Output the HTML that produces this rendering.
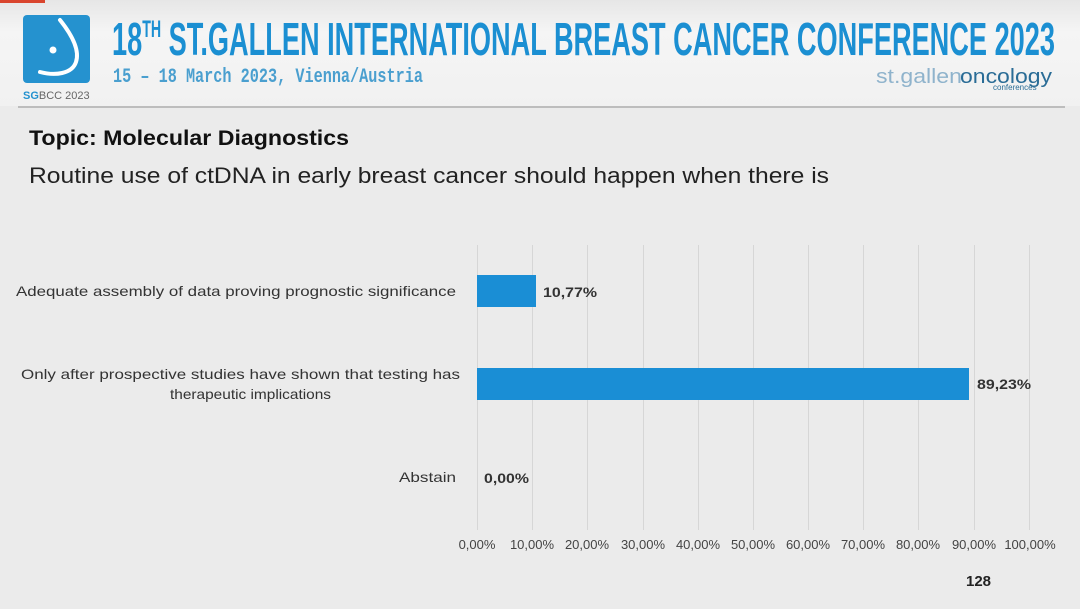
<!DOCTYPE html>
<html><head><meta charset="utf-8"><style>
html,body{margin:0;padding:0;background:#ececec}
svg{display:block}
</style></head><body>
<svg width="1080" height="609" viewBox="0 0 1080 609" xmlns="http://www.w3.org/2000/svg">
<defs>
<linearGradient id="hg" x1="0" y1="0" x2="0" y2="1"><stop offset="0" stop-color="#e6e6e6"/><stop offset="0.3" stop-color="#f5f5f5"/><stop offset="1" stop-color="#f1f1f1"/></linearGradient>
</defs>
<rect width="1080" height="609" fill="#ebebeb"/>
<rect width="1080" height="106" fill="url(#hg)"/>
<rect x="0" y="0" width="45" height="3" fill="#d9452e"/>
<line x1="18" y1="107" x2="1065" y2="107" stroke="#bdbdbd" stroke-width="2"/>
<rect x="23" y="15" width="67" height="68" rx="4" fill="#2592cf"/>
<path d="M60 20 C72 35 80 50 76 62 C72 74 55 76 40 72" fill="none" stroke="#fff" stroke-width="4" stroke-linecap="round"/>
<circle cx="53" cy="50" r="3.5" fill="#fff"/>
<text x="23" y="99" font-family="Liberation Sans, sans-serif" font-size="11" fill="#666"><tspan font-weight="bold" fill="#2592cf">SG</tspan>BCC 2023</text>
<text x="112" y="55" font-family="Liberation Sans Narrow, Liberation Sans, sans-serif" font-weight="bold" font-size="46" fill="#1b8fd2" textLength="943" lengthAdjust="spacingAndGlyphs">18<tspan font-size="24" dy="-18">TH</tspan><tspan dy="18"> ST.GALLEN INTERNATIONAL BREAST CANCER CONFERENCE 2023</tspan></text>
<text x="113" y="82" font-family="Liberation Mono, monospace" font-weight="bold" font-size="20" fill="#4a9fcf" textLength="310" lengthAdjust="spacingAndGlyphs">15 – 18 March 2023, Vienna/Austria</text>
<text x="876" y="83" font-family="Liberation Sans, sans-serif" font-size="20" fill="#8fb3cc" textLength="86" lengthAdjust="spacingAndGlyphs">st.gallen</text>
<text x="960" y="83" font-family="Liberation Sans, sans-serif" font-size="20" fill="#2a6c96" textLength="92" lengthAdjust="spacingAndGlyphs">oncology</text>
<text x="993" y="90" font-family="Liberation Sans, sans-serif" font-size="8" fill="#2a6c96">conferences</text>
<text x="29" y="145" font-family="Liberation Sans, sans-serif" font-weight="bold" font-size="21" fill="#111" textLength="320" lengthAdjust="spacingAndGlyphs">Topic: Molecular Diagnostics</text>
<text x="29" y="183" font-family="Liberation Sans, sans-serif" font-size="22" fill="#222" textLength="800" lengthAdjust="spacingAndGlyphs">Routine use of ctDNA in early breast cancer should happen when there is</text>
<g stroke="#d6d6d6" stroke-width="1">
<line x1="477.5" y1="245" x2="477.5" y2="530"/><line x1="532.5" y1="245" x2="532.5" y2="530"/><line x1="587.5" y1="245" x2="587.5" y2="530"/><line x1="643.5" y1="245" x2="643.5" y2="530"/><line x1="698.5" y1="245" x2="698.5" y2="530"/><line x1="753.5" y1="245" x2="753.5" y2="530"/><line x1="808.5" y1="245" x2="808.5" y2="530"/><line x1="863.5" y1="245" x2="863.5" y2="530"/><line x1="918.5" y1="245" x2="918.5" y2="530"/><line x1="974.5" y1="245" x2="974.5" y2="530"/><line x1="1029.5" y1="245" x2="1029.5" y2="530"/>
</g>
<rect x="477" y="275" width="59" height="32" fill="#1a8ed5"/>
<rect x="477" y="368" width="492" height="32" fill="#1a8ed5"/>
<g font-family="Liberation Sans, sans-serif" font-size="14" fill="#333" lengthAdjust="spacingAndGlyphs">
<text x="16" y="296" textLength="440" lengthAdjust="spacingAndGlyphs">Adequate assembly of data proving prognostic significance</text>
<text x="21" y="379" textLength="439" lengthAdjust="spacingAndGlyphs">Only after prospective studies have shown that testing has</text>
<text x="170" y="399" textLength="161" lengthAdjust="spacingAndGlyphs">therapeutic implications</text>
<text x="399" y="482" textLength="57" lengthAdjust="spacingAndGlyphs">Abstain</text>
</g>
<g font-family="Liberation Sans, sans-serif" font-size="14" font-weight="bold" fill="#333">
<text x="543" y="297" textLength="54" lengthAdjust="spacingAndGlyphs">10,77%</text>
<text x="977" y="389" textLength="54" lengthAdjust="spacingAndGlyphs">89,23%</text>
<text x="484" y="483" textLength="45" lengthAdjust="spacingAndGlyphs">0,00%</text>
</g>
<g font-family="Liberation Sans, sans-serif" font-size="13" fill="#444" text-anchor="middle">
<text x="477" y="549">0,00%</text><text x="532" y="549">10,00%</text><text x="587" y="549">20,00%</text><text x="643" y="549">30,00%</text><text x="698" y="549">40,00%</text><text x="753" y="549">50,00%</text><text x="808" y="549">60,00%</text><text x="863" y="549">70,00%</text><text x="918" y="549">80,00%</text><text x="974" y="549">90,00%</text><text x="1030" y="549">100,00%</text>
</g>
<text x="966" y="586" font-family="Liberation Sans, sans-serif" font-size="15" font-weight="bold" fill="#222">128</text>
</svg>
</body></html>
